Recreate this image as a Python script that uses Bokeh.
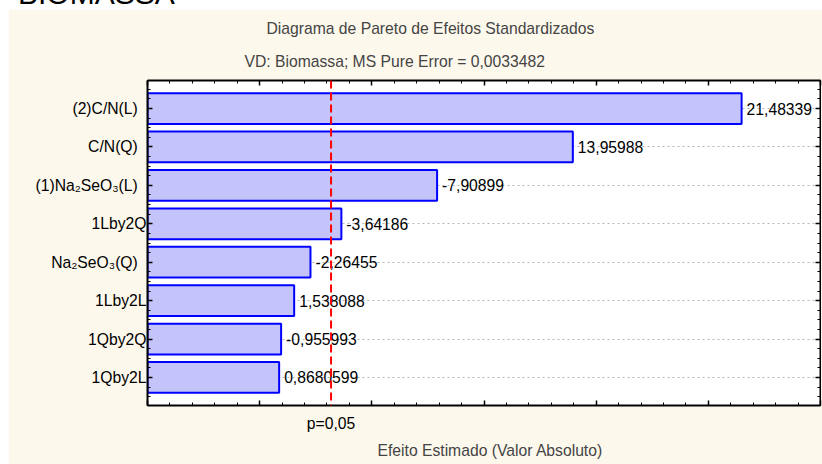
from bokeh.plotting import figure
from bokeh.models import (Range1d, LinearAxis, SingleIntervalTicker, FixedTicker, Span, Title,
                          ColumnDataSource, Grid, CustomJSTickFormatter, Div)
from bokeh.layouts import column
from bokeh.core.properties import value
from bokeh.embed import file_html
from bokeh.resources import INLINE

# ---- data ----
terms = ["(2)C/N(L)\u00a0\u00a0", "C/N(Q)\u00a0\u00a0", "(1)Na\u2082SeO\u2083(L)\u00a0\u00a0", "1Lby2Q",
         "Na\u2082SeO\u2083(Q)\u00a0\u00a0", "1Lby2L", "1Qby2Q", "1Qby2L"]
effects = [21.48339, 13.95988, -7.90899, -3.64186, -2.26455, 1.538088, -0.955993, 0.8680599]
p_limit = 3.182          # t critical value, p=0.05
x_start, x_end = -5, 25
x_major_step = 5
page_title = "BIOMASSA"
title_1 = "Diagrama de Pareto de Efeitos Standardizados"
title_2 = "VD: Biomassa; MS Pure Error = 0,0033482"
x_title = "Efeito Estimado (Valor Absoluto)"
p_label = "p=0,05"

FONT = "Liberation Sans"
FS = "15.7px"

idx = list(range(len(terms)))
abs_eff = [abs(v) for v in effects]
lab = [f"{v:.7g}".replace(".", ",") for v in effects]
src = ColumnDataSource(dict(y=idx, right=abs_eff, left=[x_start] * len(idx), lab=lab))

p = figure(width=814, height=455, output_backend="svg", toolbar_location=None,
           x_range=Range1d(x_start, x_end), y_range=Range1d(len(terms) - 0.27, -0.73),
           x_axis_location=None, y_axis_location=None,
           min_border_left=139, min_border_right=2, min_border_top=71, min_border_bottom=58)
p.margin = (0, 0, 0, 8)
p.border_fill_color = "#fdf8ec"
p.background_fill_color = "white"
p.outline_line_color = "black"
p.xgrid.visible = False
p.ygrid.visible = False

xt = SingleIntervalTicker(interval=x_major_step, num_minor_ticks=5)
yt = SingleIntervalTicker(interval=1, num_minor_ticks=4)
blank = CustomJSTickFormatter(code="return ''")

left = LinearAxis(ticker=yt)
left.major_label_overrides = {i: t for i, t in enumerate(terms)}
right = LinearAxis(ticker=yt, formatter=blank, fixed_location=x_end)
top = LinearAxis(ticker=xt, formatter=blank)
bottom = LinearAxis(ticker=xt, formatter=blank)

for ax in [left, right, top, bottom]:
    ax.axis_line_width = 2
    ax.axis_line_color = "black"
    ax.major_tick_in = 5
    ax.major_tick_out = 0
    ax.minor_tick_in = 3
    ax.minor_tick_out = 0
    ax.major_tick_line_width = 1.5
    ax.minor_tick_line_width = 1
    ax.major_label_text_font = FONT
    ax.major_label_text_color = "black"

for ax in [right, top, bottom]:
    ax.major_label_text_font_size = "1px"
    ax.major_label_standoff = 0

left.major_label_text_font_size = FS
left.major_label_standoff = 1

p.add_layout(left, "left")
p.add_layout(right, "right")
p.add_layout(top, "above")
p.add_layout(bottom, "below")

# secondary bottom axis carrying only the p=0,05 label
p_axis = LinearAxis(ticker=FixedTicker(ticks=[p_limit], minor_ticks=[]),
                    major_label_overrides={p_limit: p_label})
p_axis.axis_line_color = None
p_axis.major_tick_line_color = None
p_axis.minor_tick_line_color = None
p_axis.major_label_standoff = 3
p_axis.major_label_text_font = FONT
p_axis.major_label_text_font_size = FS
p_axis.major_label_text_color = "black"
p.add_layout(p_axis, "below")

p.add_layout(Title(text=x_title, align="left", offset=230, standoff=11,
                   text_font=FONT, text_font_size=FS, text_font_style="normal"), "below")

p.add_layout(Title(text=title_2, align="left", offset=97, standoff=22,
                   text_font=FONT, text_font_size=FS, text_font_style="normal"), "above")
p.add_layout(Title(text=title_1, align="left", offset=119, standoff=6,
                   text_font=FONT, text_font_size=FS, text_font_style="normal"), "above")

p.add_layout(Grid(dimension=1, ticker=yt, grid_line_color="#b4b4b4",
                  grid_line_dash="2 3", grid_line_width=1))

p.hbar(y="y", left="left", right="right", height=0.8, source=src,
       fill_color="#c4c4fa", line_color="#0000ff", line_width=2)

p.text(x="right", y="y", text="lab", source=src, x_offset=5, text_baseline="middle",
       text_align="left", text_font=value(FONT), text_font_size=FS, text_color="black")

p.add_layout(Span(location=p_limit, dimension="height", line_color="#ff0000",
                  line_width=2, line_dash="8 4"))

head = Div(text=page_title, width=300, height=9,
           styles={"overflow": "hidden", "font-family": FONT, "font-size": "30px",
                   "line-height": "30px", "color": "black", "margin": "0",
                   "padding-left": "18px", "position": "relative"},
           stylesheets=[":host > div, .bk-clearfix { position: relative; top: -21px; }"])
head.margin = (0, 0, 0, 0)

layout = column(head, p, spacing=0)
layout.margin = (0, 0, 0, 0)

open("out.html", "w").write(file_html(layout, INLINE))
